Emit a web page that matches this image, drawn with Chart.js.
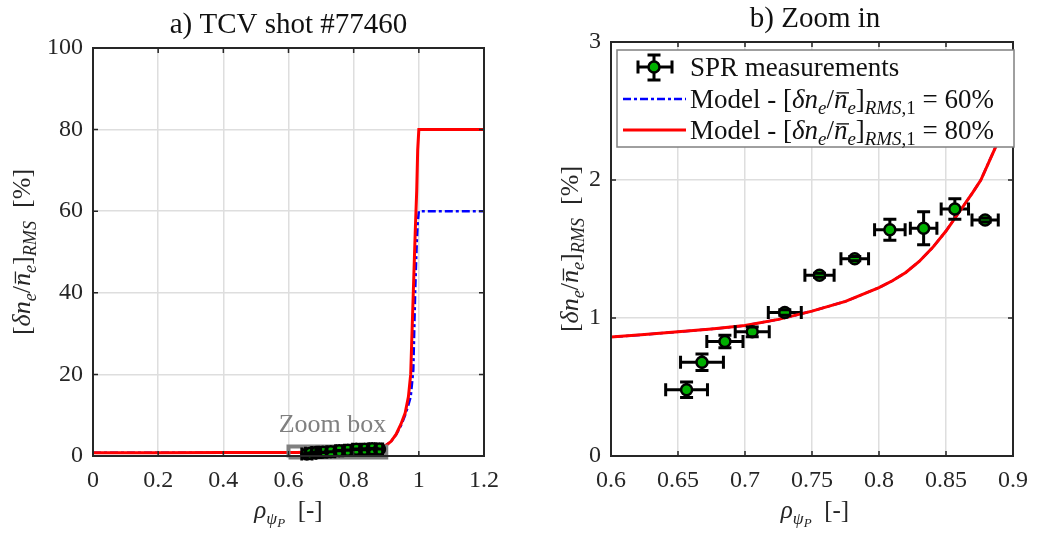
<!DOCTYPE html>
<html>
<head>
<meta charset="utf-8">
<script src="https://cdn.jsdelivr.net/npm/chart.js@4.4.0/dist/chart.umd.min.js"></script>
<style>
body { margin: 0; background: #fff; }
#wrap { position: relative; width: 1038px; height: 534px; }
canvas { position: absolute; top: 0; }
#cA { left: 0; }
#cB { left: 519px; }
</style>
</head>
<body>
<div id="wrap">
  <canvas id="cA" width="519" height="534"></canvas>
  <canvas id="cB" width="519" height="534"></canvas>
</div>
<script>
// model profiles (rho_psiP vs fluctuation level in %)
const rhoModel = [0, 0.2, 0.4, 0.6, 0.625, 0.65, 0.675, 0.7, 0.725, 0.75, 0.775, 0.8, 0.81, 0.82, 0.83, 0.84, 0.85, 0.86, 0.87, 0.876, 0.882, 0.888, 0.894, 0.9, 0.915, 0.93, 0.945, 0.958, 0.968, 0.975, 0.983, 0.989, 0.9935, 0.9965, 1.0, 1.1, 1.2];
const model80 = [0.78, 0.80, 0.83, 0.862, 0.88, 0.90, 0.92, 0.945, 0.99, 1.05, 1.12, 1.22, 1.27, 1.33, 1.41, 1.51, 1.63, 1.77, 1.91, 2.0, 2.13, 2.26, 2.44, 2.67, 3.6, 5.3, 7.8, 10.5, 14.5, 20, 40, 55, 65, 75, 80, 80, 80];
const model60 = [0.78, 0.80, 0.83, 0.862, 0.88, 0.90, 0.92, 0.945, 0.99, 1.05, 1.12, 1.22, 1.27, 1.33, 1.41, 1.51, 1.63, 1.77, 1.91, 2.0, 2.13, 2.26, 2.44, 2.67, 3.6, 5.2, 7.4, 10, 12.5, 14.5, 21, 41, 52, 57, 60, 60, 60];

// SPR measurements
const sprRho = [0.6564, 0.6679, 0.685, 0.7054, 0.7297, 0.7556, 0.7819, 0.8081, 0.8333, 0.8566, 0.8792];
const sprVal = [0.48, 0.68, 0.83, 0.90, 1.04, 1.31, 1.43, 1.64, 1.65, 1.79, 1.71];
const sprRhoErr = [0.0156, 0.016, 0.0135, 0.0127, 0.0123, 0.0109, 0.0103, 0.0114, 0.0099, 0.0102, 0.0098];
const sprValErr = [0.056, 0.06, 0.045, 0.035, 0.02, 0.015, 0.015, 0.076, 0.12, 0.074, 0.015];

// zoom box drawn in panel a)
const zoomBoxX = [0.6, 0.9, 0.9, 0.6, 0.6];
const zoomBoxY = [-0.35, -0.35, 2.35, 2.35, -0.35];

// tick labels
const xTicksA = [0, 0.2, 0.4, 0.6, 0.8, 1, 1.2];
const yTicksA = [0, 20, 40, 60, 80, 100];
const xTicksB = [0.6, 0.65, 0.7, 0.75, 0.8, 0.85, 0.9];
const yTicksB = [0, 1, 2, 3];

const SERIF = '"Liberation Serif", "Times New Roman", serif';
const INK = '#262626';
const GREEN = '#00b000';
const EB_W = 3;   // error bar line width
const CAP = 6.5;  // half cap length

const pts = (xs, ys) => xs.map((x, i) => ({ x: x, y: ys[i] }));

// little rich-text helper for the LaTeX-ish labels
const R = (t, lv = 0) => ({ t, i: false, lv, bar: false });
const I = (t, lv = 0, bar = false) => ({ t, i: true, lv, bar });

function runFont(r, size) {
    const s = size * [1, 0.7, 0.52][r.lv];
    return (r.i ? 'italic ' : '') + s.toFixed(1) + 'px ' + SERIF;
}

// draws runs centred on x (or starting at x when left is true)
function richDraw(ctx, runs, x, y, size, color, left) {
    ctx.save();
    ctx.fillStyle = color;
    ctx.strokeStyle = color;
    ctx.textAlign = 'left';
    ctx.textBaseline = 'alphabetic';
    const ws = runs.map(r => { ctx.font = runFont(r, size); return ctx.measureText(r.t).width; });
    const total = ws.reduce((a, b) => a + b, 0);
    let cx = left ? x : x - total / 2;
    runs.forEach((r, k) => {
        ctx.font = runFont(r, size);
        const dy = [0, 0.22, 0.36][r.lv] * size;
        ctx.fillText(r.t, cx, y + dy);
        if (r.bar) {
            ctx.lineWidth = size * 0.05;
            ctx.beginPath();
            ctx.moveTo(cx + size * 0.1, y - size * 0.56);
            ctx.lineTo(cx + ws[k] + size * 0.06, y - size * 0.56);
            ctx.stroke();
        }
        cx += ws[k];
    });
    ctx.restore();
    return total;
}

const yLabelRuns = [R('['), I('δn'), I('e', 1), R('/'), I('n', 0, true), I('e', 1), R(']'), I('RMS', 1), R('  [%]')];
const xLabelRuns = [I('ρ'), I('ψ', 1), I('P', 2), R('  [-]')];
function legendRuns(pct) {
    return [R('Model - ['), I('δn'), I('e', 1), R('/'), I('n', 0, true), I('e', 1), R(']'), I('RMS', 1), R(',1', 1), R(' = ' + pct + '%')];
}

function drawYLabel(ctx, cx, cy) {
    ctx.save();
    ctx.translate(cx, cy);
    ctx.rotate(-Math.PI / 2);
    richDraw(ctx, yLabelRuns, 0, 0, 26, INK);
    ctx.restore();
}

// error bars: stems under the markers, caps on top
function errStems(chart) {
    const { ctx, scales } = chart;
    ctx.save();
    ctx.strokeStyle = '#000';
    ctx.lineWidth = EB_W;
    ctx.beginPath();
    sprRho.forEach((r, i) => {
        const px = scales.x.getPixelForValue(r), py = scales.y.getPixelForValue(sprVal[i]);
        const x0 = scales.x.getPixelForValue(r - sprRhoErr[i]), x1 = scales.x.getPixelForValue(r + sprRhoErr[i]);
        const y0 = scales.y.getPixelForValue(sprVal[i] - sprValErr[i]), y1 = scales.y.getPixelForValue(sprVal[i] + sprValErr[i]);
        ctx.moveTo(x0, py); ctx.lineTo(x1, py);
        ctx.moveTo(px, y0); ctx.lineTo(px, y1);
    });
    ctx.stroke();
    ctx.restore();
}
function errCaps(chart) {
    const { ctx, scales } = chart;
    ctx.save();
    ctx.strokeStyle = '#000';
    ctx.lineWidth = EB_W;
    ctx.beginPath();
    sprRho.forEach((r, i) => {
        const px = scales.x.getPixelForValue(r), py = scales.y.getPixelForValue(sprVal[i]);
        const x0 = scales.x.getPixelForValue(r - sprRhoErr[i]), x1 = scales.x.getPixelForValue(r + sprRhoErr[i]);
        const y0 = scales.y.getPixelForValue(sprVal[i] - sprValErr[i]), y1 = scales.y.getPixelForValue(sprVal[i] + sprValErr[i]);
        ctx.moveTo(x0, py - CAP); ctx.lineTo(x0, py + CAP);
        ctx.moveTo(x1, py - CAP); ctx.lineTo(x1, py + CAP);
        ctx.moveTo(px - CAP, y0); ctx.lineTo(px + CAP, y0);
        ctx.moveTo(px - CAP, y1); ctx.lineTo(px + CAP, y1);
    });
    ctx.stroke();
    ctx.restore();
}

function frameAndTicks(chart, xt, yt) {
    const { ctx, chartArea: a, scales } = chart;
    ctx.save();
    ctx.strokeStyle = INK;
    ctx.lineWidth = 1.5;
    ctx.beginPath();
    xt.forEach(v => {
        const p = scales.x.getPixelForValue(v);
        ctx.moveTo(p, a.bottom); ctx.lineTo(p, a.bottom - 5);
        ctx.moveTo(p, a.top); ctx.lineTo(p, a.top + 5);
    });
    yt.forEach(v => {
        const p = scales.y.getPixelForValue(v);
        ctx.moveTo(a.left, p); ctx.lineTo(a.left + 5, p);
        ctx.moveTo(a.right, p); ctx.lineTo(a.right - 5, p);
    });
    ctx.stroke();
    ctx.lineWidth = 2;
    ctx.strokeRect(a.left, a.top, a.right - a.left, a.bottom - a.top);
    ctx.restore();
}

function axis(min, max, ticksArr, fixed, pad) {
    return {
        type: 'linear', min: min, max: max,
        afterBuildTicks: s => { s.ticks = ticksArr.map(v => ({ value: v })); },
        afterFit: s => { if (s.isHorizontal()) s.height = fixed; else s.width = fixed; },
        grid: { color: '#dedede', lineWidth: 1.5, drawTicks: false },
        border: { display: false },
        ticks: { font: { family: SERIF, size: 24 }, color: INK, padding: pad, callback: v => String(v) }
    };
}

const sprStyle = {
    showLine: false, pointRadius: 5.5, pointHoverRadius: 5.5, pointBorderWidth: 2.5,
    pointBackgroundColor: GREEN, pointBorderColor: '#000', clip: false
};

// ---------- panel a) ----------
new Chart(document.getElementById('cA'), {
    type: 'scatter',
    data: {
        datasets: [
            Object.assign({ label: 'SPR measurements', data: pts(sprRho, sprVal), order: 0 }, sprStyle),
            { label: 'Zoom box', data: pts(zoomBoxX, zoomBoxY), showLine: true, pointRadius: 0,
              borderColor: '#808080', borderWidth: 4, clip: false, order: 1 },
            { label: 'Model 80%', data: pts(rhoModel, model80), showLine: true, pointRadius: 0,
              borderColor: '#ff0000', borderWidth: 3, order: 2 },
            { label: 'Model 60%', data: pts(rhoModel, model60), showLine: true, pointRadius: 0,
              borderColor: '#0000ff', borderWidth: 2.5, borderDash: [8, 3, 3, 3], order: 3 }
        ]
    },
    options: {
        responsive: false, animation: false, devicePixelRatio: 1,
        layout: { padding: { top: 48, right: 35, left: 0, bottom: 0 } },
        plugins: { legend: { display: false }, tooltip: { enabled: false } },
        scales: {
            x: axis(0, 1.2, xTicksA, 78, 10),
            y: axis(0, 100, yTicksA, 93, 10)
        }
    },
    plugins: [{
        id: 'decorA',
        beforeDatasetsDraw(chart) { errStems(chart); },
        afterDatasetsDraw(chart) {
            errCaps(chart);
            frameAndTicks(chart, xTicksA, yTicksA);
        },
        afterDraw(chart) {
            const ctx = chart.ctx, s = chart.scales;
            ctx.save();
            ctx.fillStyle = '#808080';
            ctx.font = '26px ' + SERIF;
            ctx.textAlign = 'center';
            ctx.fillText('Zoom box', s.x.getPixelForValue(0.735), s.y.getPixelForValue(5.9));
            ctx.restore();
            richDraw(ctx, [R('a) TCV shot #77460')], 288.5, 33, 29, '#111');
            richDraw(ctx, xLabelRuns, 288.5, 518, 25, INK);
            drawYLabel(ctx, 30, 252);
        }
    }]
});

// ---------- panel b) ----------
new Chart(document.getElementById('cB'), {
    type: 'scatter',
    data: {
        datasets: [
            Object.assign({ label: 'SPR measurements', data: pts(sprRho, sprVal), order: 0 }, sprStyle),
            { label: 'Model 80%', data: pts(rhoModel, model80), showLine: true, pointRadius: 0,
              borderColor: '#ff0000', borderWidth: 3, order: 1 },
            { label: 'Model 60%', data: pts(rhoModel, model60), showLine: true, pointRadius: 0,
              borderColor: '#0000ff', borderWidth: 2.5, borderDash: [8, 3, 3, 3], order: 2 }
        ]
    },
    options: {
        responsive: false, animation: false, devicePixelRatio: 1,
        layout: { padding: { top: 42, right: 19, left: 0, bottom: 0 } },
        plugins: { legend: { display: false }, tooltip: { enabled: false } },
        scales: {
            x: axis(0.6, 0.9, xTicksB, 78, 10),
            y: axis(0, 3, yTicksB, 92, 10)
        }
    },
    plugins: [{
        id: 'decorB',
        beforeDatasetsDraw(chart) { errStems(chart); },
        afterDatasetsDraw(chart) {
            errCaps(chart);
            frameAndTicks(chart, xTicksB, yTicksB);
        },
        afterDraw(chart) {
            const ctx = chart.ctx;
            richDraw(ctx, [R('b) Zoom in')], 296, 27, 29, '#111');
            richDraw(ctx, xLabelRuns, 296, 518, 25, INK);
            drawYLabel(ctx, 59, 249);

            // legend
            ctx.save();
            ctx.fillStyle = '#fff';
            ctx.fillRect(98, 50, 397, 97);
            ctx.strokeStyle = '#808080';
            ctx.lineWidth = 1.5;
            ctx.strokeRect(98, 50, 397, 97);
            // marker sample with error bars
            ctx.strokeStyle = '#000';
            ctx.lineWidth = EB_W;
            ctx.beginPath();
            ctx.moveTo(119, 67); ctx.lineTo(153, 67);
            ctx.moveTo(135, 55); ctx.lineTo(135, 80);
            ctx.stroke();
            ctx.beginPath();
            ctx.arc(135, 67, 5.5, 0, Math.PI * 2);
            ctx.fillStyle = GREEN;
            ctx.fill();
            ctx.lineWidth = 2.5;
            ctx.stroke();
            ctx.lineWidth = EB_W;
            ctx.beginPath();
            ctx.moveTo(119, 60.5); ctx.lineTo(119, 73.5);
            ctx.moveTo(153, 60.5); ctx.lineTo(153, 73.5);
            ctx.moveTo(128.5, 55); ctx.lineTo(141.5, 55);
            ctx.moveTo(128.5, 80); ctx.lineTo(141.5, 80);
            ctx.stroke();
            // line samples
            ctx.lineWidth = 2.5;
            ctx.strokeStyle = '#0000ff';
            ctx.setLineDash([8, 3, 3, 3]);
            ctx.beginPath(); ctx.moveTo(104, 99); ctx.lineTo(167, 99); ctx.stroke();
            ctx.setLineDash([]);
            ctx.lineWidth = 3;
            ctx.strokeStyle = '#ff0000';
            ctx.beginPath(); ctx.moveTo(104, 130); ctx.lineTo(167, 130); ctx.stroke();
            ctx.restore();

            const fs = 27;
            richDraw(ctx, [R('SPR measurements')], 171, 76, fs, '#111', true);
            richDraw(ctx, legendRuns(60), 171, 108, fs, '#111', true);
            richDraw(ctx, legendRuns(80), 171, 139, fs, '#111', true);
        }
    }]
});
</script>
</body>
</html>
